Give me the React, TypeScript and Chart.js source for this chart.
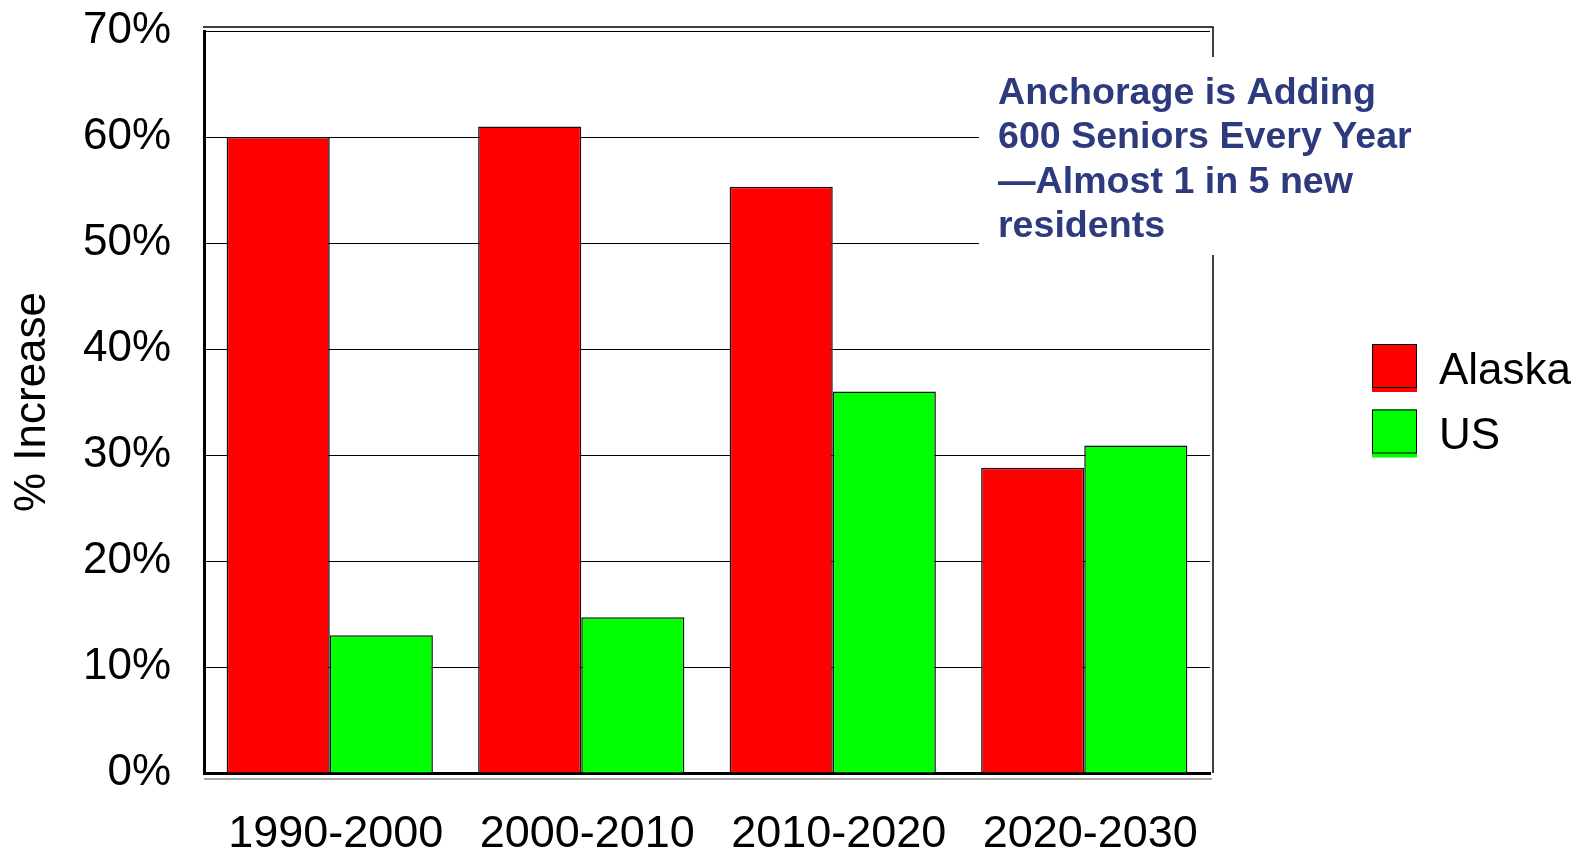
import React, { useEffect, useRef } from "react";
import { Chart, registerables } from "chart.js";

Chart.register(...registerables);

const categories = ["1990-2000", "2000-2010", "2010-2020", "2020-2030"];
const alaskaValues = [60, 61, 55.3, 28.8];
const usValues = [13, 14.7, 36, 30.9];
const seriesNames = ["Alaska", "US"];
const yTicks = [0, 10, 20, 30, 40, 50, 60, 70];
const noteLines = [
  "Anchorage is Adding",
  "600 Seniors Every Year",
  "\u2014Almost 1 in 5 new",
  "residents",
];

const FONT = "'Liberation Sans', Arial, Helvetica, sans-serif";
const NAVY = "#2E3A7E";

const decorPlugin = {
  id: "decor",
  afterDraw(chart: any) {
    const { ctx, chartArea } = chart;
    const { left, right, top, bottom } = chartArea;
    ctx.save();
    // 3D-ish frame: top and right border offset
    ctx.strokeStyle = "#000";
    ctx.lineWidth = 1.5;
    ctx.beginPath();
    ctx.moveTo(left - 1, top - 4);
    ctx.lineTo(right + 3, top - 4);
    ctx.lineTo(right + 3, bottom);
    ctx.stroke();
    // floor line
    ctx.strokeStyle = "#888";
    ctx.lineWidth = 1.5;
    ctx.beginPath();
    ctx.moveTo(left, bottom + 6);
    ctx.lineTo(right + 2, bottom + 6);
    ctx.stroke();

    // annotation box
    ctx.fillStyle = "#fff";
    ctx.fillRect(979, 57, 445, 198);
    ctx.fillStyle = NAVY;
    ctx.font = `bold 37.6px ${FONT}`;
    ctx.textAlign = "left";
    ctx.textBaseline = "alphabetic";
    noteLines.forEach((line, i) => {
      ctx.fillText(line, 998, 103.5 + i * 44.5);
    });

    // legend
    const ds = chart.data.datasets;
    ds.forEach((d: any, i: number) => {
      const bx = 1372;
      const by = 344 + i * 65.5;
      ctx.fillStyle = d.backgroundColor;
      ctx.fillRect(bx, by, 45, 48);
      ctx.fillRect(bx, by, 45, 44);
      ctx.strokeStyle = "#000";
      ctx.lineWidth = 1;
      ctx.strokeRect(bx + 0.5, by + 0.5, 44, 43);
      ctx.fillStyle = "#000";
      ctx.font = `44px ${FONT}`;
      ctx.textBaseline = "alphabetic";
      ctx.fillText(d.label, 1439, by + 39.5);
    });
    ctx.restore();
  },
};

export default function App() {
  const ref = useRef<HTMLCanvasElement | null>(null);
  useEffect(() => {
    if (!ref.current) return;
    const chart = new Chart(ref.current, {
      type: "bar",
      data: {
        labels: categories,
        datasets: [
          {
            label: seriesNames[0],
            data: alaskaValues,
            backgroundColor: "#FF0000",
            borderColor: "#111",
            borderWidth: 1.5,
            categoryPercentage: 0.82,
            barPercentage: 1,
          },
          {
            label: seriesNames[1],
            data: usValues,
            backgroundColor: "#00FF00",
            borderColor: "#111",
            borderWidth: 1.5,
            categoryPercentage: 0.82,
            barPercentage: 1,
          },
        ],
      },
      options: {
        responsive: false,
        animation: false,
        layout: { padding: { top: 31, right: 377, left: 0, bottom: 0 } },
        plugins: {
          legend: { display: false },
          tooltip: { enabled: false },
        },
        scales: {
          x: {
            grid: { display: false, drawTicks: false },
            border: { color: "#000", width: 3 },
            ticks: {
              color: "#000",
              font: { family: FONT, size: 45, lineHeight: 1 },
              padding: 39,
              labelOffset: 6,
              maxRotation: 0,
              autoSkip: false,
            },
            afterFit: (s: any) => {
              s.height = 77;
            },
          },
          y: {
            min: 0,
            max: 70,
            afterBuildTicks: (s: any) => {
              s.ticks = yTicks.map((v) => ({ value: v }));
            },
            grid: {
              color: "#000",
              lineWidth: 1,
              drawTicks: true,
              tickLength: 33,
              tickColor: "rgba(0,0,0,0)",
            },
            border: { color: "#000", width: 3 },
            ticks: {
              color: "#000",
              font: { family: FONT, size: 44, lineHeight: 1 },
              padding: 0,
              callback: (v: any) => `${v}%`,
            },
            title: {
              display: true,
              text: "% Increase",
              color: "#000",
              font: { family: FONT, size: 44, lineHeight: 1 },
              padding: { top: 11, bottom: 0 },
            },
            afterFit: (s: any) => {
              s.width = 204;
            },
          },
        },
      },
      plugins: [decorPlugin],
    });
    return () => chart.destroy();
  }, []);
  return (
    <div style={{ position: "fixed", left: 0, top: 0, width: 1587, height: 850, background: "#fff" }}>
      <canvas ref={ref} width={1587} height={850} style={{ width: 1587, height: 850, display: "block" }} />
    </div>
  );
}
